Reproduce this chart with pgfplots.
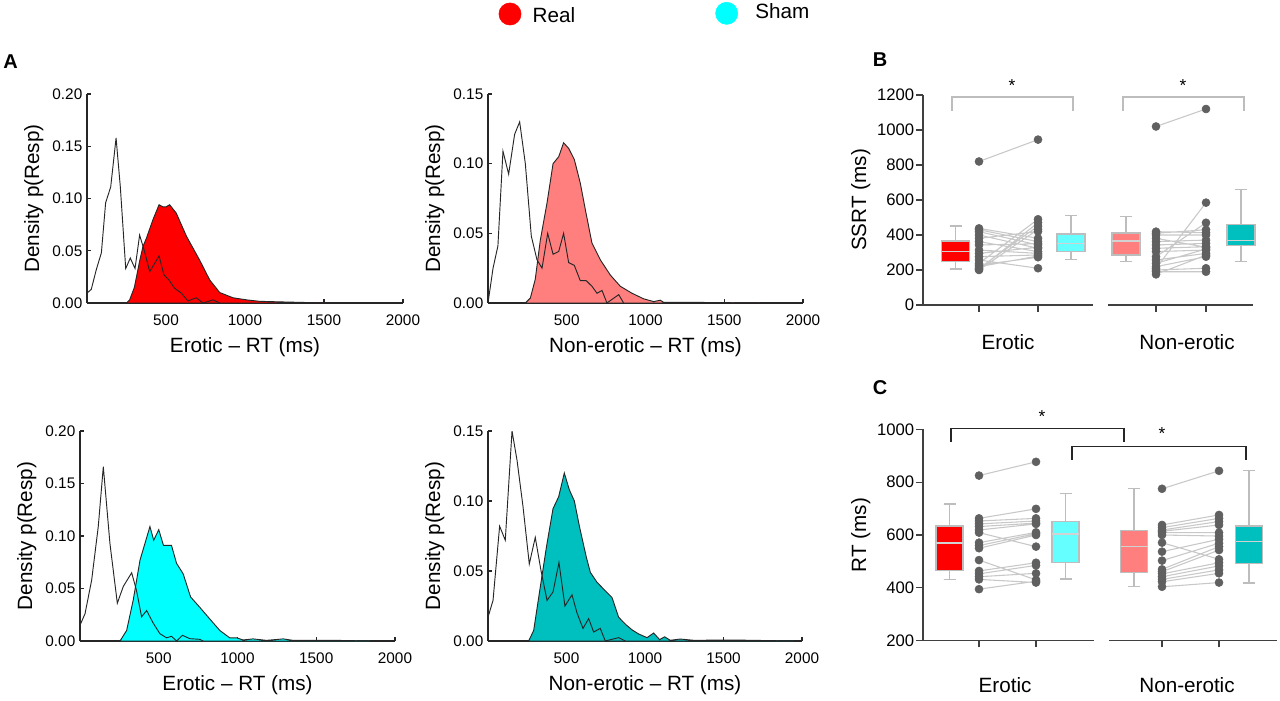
\documentclass[border=0pt]{standalone}
\usepackage{fontspec}
\setmainfont{Liberation Sans}
\usepackage{pgfplots}
\usepgfplotslibrary{statistics}
\pgfplotsset{compat=1.18}
\definecolor{realE}{HTML}{FF0000}
\definecolor{realN}{HTML}{FF7F7F}
\definecolor{shamE}{HTML}{00FFFF}
\definecolor{shamEbox}{HTML}{66FFFF}
\definecolor{shamN}{HTML}{00BFBF}
\definecolor{dotgray}{HTML}{606060}
\definecolor{linegray}{HTML}{C8C8C8}
\definecolor{boxgray}{HTML}{BDBDBD}
\definecolor{axcol}{HTML}{404040}
\pgfplotsset{
  densA/.style={anchor=south west, scale only axis, xmin=0, xmax=2000, ymin=0,
    enlargelimits=false, axis x line*=bottom, axis y line*=left,
    x axis line style={-}, y axis line style={-},
    axis line style={line width=0.8pt, black!85},
    xtick={500,1000,1500,2000},
    tick align=inside, major tick length=3pt,
    every tick/.style={black!85, line width=0.8pt},
    ticklabel style={font=\fontsize{11.5}{13}\selectfont},
    xticklabel style={yshift=-5pt},
    label style={font=\fontsize{15.5}{18}\selectfont},
    xlabel style={yshift=-2pt},
    /pgf/number format/assume math mode=true,
    /pgf/number format/1000 sep={},
    scaled y ticks=false,
    yticklabel style={/pgf/number format/fixed, /pgf/number format/fixed zerofill, /pgf/number format/precision=2},
    ylabel={Density p(Resp)}},
  boxB/.style={anchor=south west, scale only axis, clip=false,
    axis x line*=bottom, axis y line*=left,
    x axis line style={draw=none}, y axis line style={-, line width=0.8pt, axcol},
    xticklabels={}, tick align=outside, major tick length=5pt,
    every tick/.style={axcol, line width=0.8pt},
    ticklabel style={font=\fontsize{12.5}{14}\selectfont},
    yticklabel style={inner sep=1.5pt},
    label style={font=\fontsize{15.5}{18}\selectfont},
    /pgf/number format/assume math mode=true,
    /pgf/number format/1000 sep={},
    boxplot/draw direction=y,
    boxplot/every median/.style={draw=gray!35, line width=1pt}},
  dens/.style={draw=black!85, line width=0.7pt},
  pairline/.style={linegray, line width=0.8pt, unbounded coords=jump},
  dots/.style={only marks, mark=*, mark size=3pt, dotgray, mark options={draw=dotgray, fill=dotgray}},
  bx/.style={draw=boxgray, line width=1pt, solid}
}
\begin{document}
\begin{tikzpicture}
\path[use as bounding box, fill=white] (0,0) rectangle (960pt,525pt);
% overlay axis in picture units (pt)
\begin{axis}[at={(0,0)}, anchor=south west, scale only axis, width=960pt, height=525pt,
  xmin=0, xmax=960, ymin=0, ymax=525, hide axis, clip=false]
\addplot[only marks, mark=*, mark size=8.3pt, realE] coordinates {(382.5,514.5)};
\addplot[only marks, mark=*, mark size=8.3pt, shamE] coordinates {(545,515)};
\node[anchor=west, font=\fontsize{15.5}{18}\selectfont] at (axis cs:396,513.5) {Real};
\node[anchor=west, font=\fontsize{15.5}{18}\selectfont] at (axis cs:563,516.5) {Sham};
\node[font=\fontsize{15}{18}\selectfont\bfseries] at (axis cs:8,478.5) {A};
\node[font=\fontsize{15}{18}\selectfont\bfseries] at (axis cs:660,480) {B};
\node[font=\fontsize{15}{18}\selectfont\bfseries] at (axis cs:660,234) {C};
\end{axis}
% ---------- A top-left: Erotic real
\begin{axis}[densA, at={(65.25pt,297.75pt)}, width=237pt, height=156.75pt,
  ymax=0.20, ytick={0,0.05,0.10,0.15,0.20}, xlabel={Erotic – RT (ms)}]
\addplot[dens, fill=realE] coordinates {(250,0) (270,0.003) (300,0.015) (333,0.04) (354,0.054) (376,0.062) (418,0.08) (456,0.094) (481,0.092) (500,0.092) (523,0.094) (565,0.086) (629,0.064) (713,0.041) (777,0.022) (840,0.010) (924,0.005) (1009,0.003) (1093,0.0016) (1240,0.001) (1515,0)} \closedcycle;
\addplot[dens] coordinates {(0,0.0095) (27,0.013) (59,0.032) (91,0.048) (118,0.096) (150,0.111) (184,0.158) (211,0.111) (245,0.033) (274,0.043) (304,0.033) (333,0.065) (361,0.051) (397,0.030) (456,0.045) (487,0.027) (519,0.022) (555,0.014) (597,0.0095) (639,0.002) (692,0.005) (734,0) (798,0.003) (840,0)};
\end{axis}
% ---------- A top-right: Non-erotic real
\begin{axis}[densA, at={(366pt,297.75pt)}, width=236.25pt, height=156.75pt,
  ymax=0.15, ytick={0,0.05,0.10,0.15}, xlabel={Non-erotic – RT (ms)}]
\addplot[dens, fill=realN] coordinates {(237,0) (269,0.0036) (300,0.017) (332,0.045) (375,0.072) (413,0.100) (449,0.105) (480,0.115) (512,0.111) (548,0.103) (586,0.086) (618,0.067) (660,0.043) (713,0.031) (777,0.020) (840,0.012) (914,0.007) (988,0.003) (1052,0.001) (1094,0.002) (1115,0.0005) (1263,0.0005) (1729,0)} \closedcycle;
\addplot[dens] coordinates {(0,0) (32,0.025) (63,0.041) (95,0.109) (131,0.0925) (169,0.121) (201,0.130) (237,0.100) (275,0.048) (311,0.031) (343,0.025) (379,0.050) (413,0.035) (449,0.037) (480,0.050) (512,0.029) (548,0.027) (586,0.016) (624,0.016) (660,0.012) (692,0.007) (724,0.009) (755,0) (830,0.006) (861,0)};
\end{axis}
% ---------- A bottom-left: Erotic sham
\begin{axis}[densA, at={(60pt,44.25pt)}, width=236.25pt, height=157.5pt,
  ymax=0.20, ytick={0,0.05,0.10,0.15,0.20}, xlabel={Erotic – RT (ms)}]
\addplot[dens, fill=shamE] coordinates {(254,0) (296,0.010) (338,0.039) (381,0.077) (444,0.109) (468,0.096) (500,0.106) (530,0.091) (581,0.091) (613,0.074) (655,0.064) (702,0.042) (761,0.032) (824,0.021) (888,0.010) (951,0.003) (994,0.003) (1036,0.001) (1099,0.002) (1184,0.0006) (1290,0.002) (1353,0.0006) (1628,0.0006) (1839,0)} \closedcycle;
\addplot[dens] coordinates {(0,0.015) (32,0.026) (74,0.058) (116,0.109) (148,0.166) (190,0.093) (237,0.036) (275,0.052) (328,0.065) (359,0.048) (391,0.023) (423,0.029) (465,0.017) (507,0.007) (550,0.003) (581,0.0045) (613,0) (651,0.0054) (698,0.0022) (761,0.0016) (782,0)};
\end{axis}
% ---------- A bottom-right: Non-erotic sham
\begin{axis}[densA, at={(366pt,44.25pt)}, width=235.5pt, height=157.5pt,
  ymax=0.15, ytick={0,0.05,0.10,0.15}, xlabel={Non-erotic – RT (ms)}]
\addplot[dens, fill=shamN] coordinates {(259,0) (291,0.0076) (333,0.0386) (372,0.067) (414,0.0945) (450,0.103) (486,0.120) (518,0.108) (550,0.100) (584,0.081) (626,0.060) (652,0.049) (694,0.042) (737,0.037) (790,0.031) (832,0.017) (875,0.012) (917,0.008) (960,0.005) (1013,0.0024) (1055,0.0057) (1093,0.001) (1125,0.003) (1161,0.0005) (1225,0.0014) (1310,0.0005) (1565,0.0007) (1947,0)} \closedcycle;
\addplot[dens] coordinates {(0,0.017) (32,0.029) (74,0.082) (110,0.072) (153,0.150) (185,0.129) (223,0.096) (263,0.055) (301,0.074) (338,0.050) (376,0.029) (414,0.035) (452,0.056) (490,0.025) (535,0.033) (567,0.020) (605,0.009) (641,0.016) (673,0.0064) (715,0.009) (747,0) (832,0.0024) (875,0)};
\end{axis}
% ---------- B: SSRT
\begin{axis}[boxB, at={(692.25pt,296.25pt)}, width=252.75pt, height=157.5pt,
  xmin=0, xmax=337, ymin=0, ymax=1200, ytick={0,200,...,1200},
  xtick={56,115,233,283}, ylabel={SSRT (ms)}]
\addplot[axcol, line width=0.8pt] coordinates {(0,0) (170,0)};
\addplot[axcol, line width=0.8pt] coordinates {(185,0) (330,0)};
\addplot[boxgray, line width=1pt] coordinates {(29,1109) (29,1189) (150,1189) (150,1109)};
\addplot[boxgray, line width=1pt] coordinates {(200,1109) (200,1189) (321,1189) (321,1109)};
\node[font=\fontsize{13}{15}\selectfont] at (axis cs:89,1255) {*};
\node[font=\fontsize{13}{15}\selectfont] at (axis cs:260,1255) {*};
\node[font=\fontsize{15.5}{18}\selectfont] at (axis cs:85,-211) {Erotic};
\node[font=\fontsize{15.5}{18}\selectfont] at (axis cs:264,-211) {Non-erotic};
\addplot[bx, fill=realE, boxplot prepared={draw position=32.5, lower whisker=205, lower quartile=248, median=307, upper quartile=366, upper whisker=451, box extend=28, whisker extend=12}] coordinates {};
\addplot[bx, fill=shamEbox, boxplot prepared={draw position=148, lower whisker=259, lower quartile=305, median=352, upper quartile=406, upper whisker=510, box extend=28, whisker extend=12}] coordinates {};
\addplot[bx, fill=realN, boxplot prepared={draw position=203, lower whisker=250, lower quartile=286, median=366, upper quartile=411, upper whisker=507, box extend=28, whisker extend=12}] coordinates {};
\addplot[bx, fill=shamN, boxplot prepared={draw position=318, lower whisker=250, lower quartile=339, median=370, upper quartile=459, upper whisker=661, box extend=28, whisker extend=12}] coordinates {};
\addplot[pairline] coordinates {(56,820) (115,945) (0,nan) (56,438) (115,381) (0,nan) (56,430) (115,362) (0,nan) (56,419) (115,343) (0,nan) (56,400) (115,324) (0,nan) (56,381) (115,420) (0,nan) (56,362) (115,305) (0,nan) (56,343) (115,350) (0,nan) (56,314) (115,295) (0,nan) (56,295) (115,330) (0,nan) (56,276) (115,286) (0,nan) (56,257) (115,210) (0,nan) (56,238) (115,490) (0,nan) (56,228) (115,273) (0,nan) (56,219) (115,280) (0,nan) (56,210) (115,451) (0,nan) (56,200) (115,432) (0,nan) (56,205) (115,470)};
\addplot[pairline] coordinates {(233,1020) (283,1120) (0,nan) (233,419) (283,413) (0,nan) (233,410) (283,430) (0,nan) (233,400) (283,400) (0,nan) (233,381) (283,330) (0,nan) (233,362) (283,371) (0,nan) (233,343) (283,352) (0,nan) (233,324) (283,333) (0,nan) (233,305) (283,314) (0,nan) (233,276) (283,470) (0,nan) (233,257) (283,295) (0,nan) (233,238) (283,320) (0,nan) (233,219) (283,276) (0,nan) (233,210) (283,585) (0,nan) (233,200) (283,210) (0,nan) (233,190) (283,190) (0,nan) (233,175) (283,285)};
\addplot[dots] coordinates {(56,820) (56,438) (56,430) (56,419) (56,400) (56,381) (56,362) (56,343) (56,314) (56,295) (56,276) (56,257) (56,238) (56,228) (56,219) (56,210) (56,200) (56,205)
 (115,945) (115,381) (115,362) (115,343) (115,324) (115,420) (115,305) (115,350) (115,295) (115,330) (115,286) (115,210) (115,490) (115,273) (115,280) (115,451) (115,432) (115,470)};
\addplot[dots] coordinates {(233,1020) (233,419) (233,410) (233,400) (233,381) (233,362) (233,343) (233,324) (233,305) (233,276) (233,257) (233,238) (233,219) (233,210) (233,200) (233,190) (233,175)
 (283,1120) (283,413) (283,430) (283,400) (283,330) (283,371) (283,352) (283,333) (283,314) (283,470) (283,295) (283,320) (283,276) (283,585) (283,210) (283,190) (283,285)};
\end{axis}
% ---------- C: RT
\begin{axis}[boxB, at={(692.25pt,44.5pt)}, width=266.25pt, height=158.5pt,
  xmin=0, xmax=355, ymin=200, ymax=1000, ytick={200,400,...,1000},
  xtick={56,113,239,296}, ylabel={RT (ms)}]
\addplot[axcol, line width=0.8pt] coordinates {(0,200) (171,200)};
\addplot[axcol, line width=0.8pt] coordinates {(186,200) (354,200)};
\addplot[black!85, line width=1pt] coordinates {(28,953) (28,1004) (201,1004) (201,953)};
\addplot[black!85, line width=1pt] coordinates {(149,884) (149,935) (323,935) (323,884)};
\node[font=\fontsize{13}{15}\selectfont] at (axis cs:119,1050) {*};
\node[font=\fontsize{13}{15}\selectfont] at (axis cs:239,983) {*};
\node[font=\fontsize{15.5}{18}\selectfont] at (axis cs:82,32) {Erotic};
\node[font=\fontsize{15.5}{18}\selectfont] at (axis cs:264,32) {Non-erotic};
\addplot[bx, fill=realE, boxplot prepared={draw position=26.5, lower whisker=431, lower quartile=465, median=570, upper quartile=634, upper whisker=717, box extend=27, whisker extend=12}] coordinates {};
\addplot[bx, fill=shamEbox, boxplot prepared={draw position=142.5, lower whisker=433, lower quartile=497, median=604, upper quartile=652, upper whisker=758, box extend=27, whisker extend=12}] coordinates {};
\addplot[bx, fill=realN, boxplot prepared={draw position=211, lower whisker=404, lower quartile=459, median=556, upper quartile=618, upper whisker=775, box extend=27, whisker extend=12}] coordinates {};
\addplot[bx, fill=shamN, boxplot prepared={draw position=326, lower whisker=418, lower quartile=491, median=575, upper quartile=634, upper whisker=843, box extend=27, whisker extend=12}] coordinates {};
\addplot[pairline] coordinates {(56,825) (113,877) (0,nan) (56,663) (113,699) (0,nan) (56,653) (113,663) (0,nan) (56,642) (113,653) (0,nan) (56,632) (113,645) (0,nan) (56,619) (113,642) (0,nan) (56,609) (113,556) (0,nan) (56,571) (113,610) (0,nan) (56,560) (113,605) (0,nan) (56,550) (113,600) (0,nan) (56,505) (113,430) (0,nan) (56,464) (113,495) (0,nan) (56,453) (113,485) (0,nan) (56,442) (113,455) (0,nan) (56,432) (113,420) (0,nan) (56,395) (113,425)};
\addplot[pairline] coordinates {(239,775) (296,843) (0,nan) (239,638) (296,676) (0,nan) (239,628) (296,663) (0,nan) (239,619) (296,651) (0,nan) (239,614) (296,638) (0,nan) (239,609) (296,609) (0,nan) (239,600) (296,596) (0,nan) (239,571) (296,508) (0,nan) (239,537) (296,584) (0,nan) (239,503) (296,569) (0,nan) (239,470) (296,556) (0,nan) (239,461) (296,543) (0,nan) (239,453) (296,495) (0,nan) (239,442) (296,483) (0,nan) (239,432) (296,468) (0,nan) (239,423) (296,455) (0,nan) (239,404) (296,420)};
\addplot[dots] coordinates {(56,825) (56,663) (56,653) (56,642) (56,632) (56,619) (56,609) (56,571) (56,560) (56,550) (56,505) (56,464) (56,453) (56,442) (56,432) (56,395)
 (113,877) (113,699) (113,663) (113,653) (113,645) (113,642) (113,556) (113,610) (113,605) (113,600) (113,430) (113,495) (113,485) (113,455) (113,420) (113,425)};
\addplot[dots] coordinates {(239,775) (239,638) (239,628) (239,619) (239,614) (239,609) (239,600) (239,571) (239,537) (239,503) (239,470) (239,461) (239,453) (239,442) (239,432) (239,423) (239,404)
 (296,843) (296,676) (296,663) (296,651) (296,638) (296,609) (296,596) (296,508) (296,584) (296,569) (296,556) (296,543) (296,495) (296,483) (296,468) (296,455) (296,420)};
\end{axis}
\end{tikzpicture}
\end{document}
